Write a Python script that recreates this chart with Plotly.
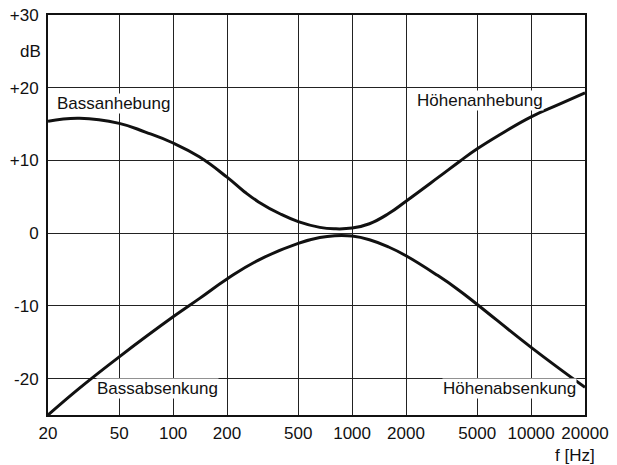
import numpy as np
import plotly.graph_objects as go

# Frequencies (Hz) and levels (dB)
freq_upper = [20, 30, 50, 70, 100, 140, 200, 250, 300, 400, 500, 660, 800, 1000, 1250, 1600, 2000, 3000, 4000, 5000, 6640, 10000, 14300, 20000]
db_upper = [15.4, 15.8, 15.1, 13.9, 12.4, 10.5, 7.7, 5.7, 4.3, 2.6, 1.6, 0.8, 0.6, 0.7, 1.3, 2.7, 4.4, 7.6, 9.9, 11.6, 13.5, 16.0, 17.7, 19.3]

freq_lower = [20, 30, 50, 100, 140, 200, 300, 500, 660, 800, 1000, 1250, 1600, 2000, 3000, 3880, 5000, 10000, 20000]
db_lower = [-25.0, -21.3, -17.0, -11.5, -9.0, -6.3, -3.7, -1.4, -0.6, -0.35, -0.4, -0.9, -1.9, -3.1, -5.8, -7.7, -9.8, -15.7, -21.2]

x_ticks = [20, 50, 100, 200, 500, 1000, 2000, 5000, 10000, 20000]
x_ticktext = ["20", "50", "100", "200", "500", "1000", "2000", "5000", "10000", "20000"]
y_ticks = [-20, -10, 0, 10, 20, 30]
y_ticktext = ["-20", "-10", "0", "+10", "+20", "+30"]

labels = ["Bassanhebung", "Höhenanhebung", "Bassabsenkung", "Höhenabsenkung"]
label_f = [22.2, 2280, 37, 3190]
label_db = [17.9, 18.3, -21.4, -21.3]

FONT = "Liberation Sans, Arial, sans-serif"
INK = "#111111"

fig = go.Figure()
fig.add_trace(go.Scatter(x=freq_upper, y=db_upper, mode="lines",
                         line=dict(color=INK, width=3, shape="spline", smoothing=1.3),
                         hoverinfo="skip", showlegend=False))
fig.add_trace(go.Scatter(x=freq_lower, y=db_lower, mode="lines",
                         line=dict(color=INK, width=3, shape="spline", smoothing=1.3),
                         hoverinfo="skip", showlegend=False))

for t, f, d in zip(labels, label_f, label_db):
    fig.add_annotation(x=np.log10(f), y=d, xref="x", yref="y", text=t,
                       showarrow=False, xanchor="left", yanchor="middle",
                       bgcolor="white", borderpad=0,
                       font=dict(family=FONT, size=17, color=INK))

fig.add_annotation(x=0, y=25, xref="paper", yref="y", text="dB", showarrow=False,
                   xanchor="right", yanchor="middle", xshift=-5,
                   font=dict(family=FONT, size=17, color=INK))
fig.add_annotation(x=1, y=0, xref="paper", yref="paper", text="f [Hz]", showarrow=False,
                   xanchor="right", yanchor="top", xshift=12, yshift=-29,
                   font=dict(family=FONT, size=17, color=INK))

fig.update_xaxes(type="log", range=[np.log10(20), np.log10(20000)],
                 tickvals=x_ticks, ticktext=x_ticktext, tickangle=0,
                 showgrid=True, gridcolor="#222222", gridwidth=1.4,
                 showline=True, linecolor=INK, linewidth=2, mirror=True,
                 ticks="", ticklabelstandoff=2, zeroline=False, automargin=False,
                 tickfont=dict(family=FONT, size=17, color=INK))
fig.update_yaxes(range=[-25, 30], tickvals=y_ticks, ticktext=y_ticktext,
                 showgrid=True, gridcolor="#222222", gridwidth=1.4,
                 showline=True, linecolor=INK, linewidth=2, mirror=True,
                 ticks="", ticklabelstandoff=4, zeroline=False, automargin=False,
                 tickfont=dict(family=FONT, size=17, color=INK))

fig.update_layout(width=617, height=465,
                  margin=dict(l=48, r=32, t=15, b=50),
                  paper_bgcolor="white", plot_bgcolor="white",
                  showlegend=False)

fig.write_html("out.html")
